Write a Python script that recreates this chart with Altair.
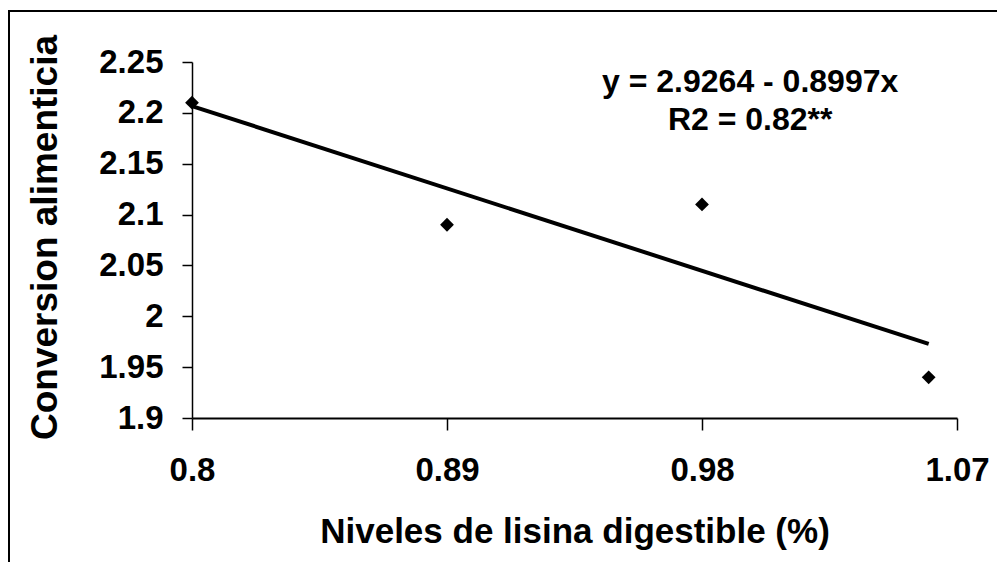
import altair as alt
import pandas as pd

# Data
lisina = [0.80, 0.89, 0.98, 1.06]
conversion = [2.21, 2.09, 2.11, 1.94]
x_ticks = [0.8, 0.89, 0.98, 1.07]
y_ticks = [1.9, 1.95, 2.0, 2.05, 2.1, 2.15, 2.2, 2.25]
eq_lines = ["y = 2.9264 - 0.8997x", "R2 = 0.82**"]
eq_x = [0.997, 0.997]
eq_y = [2.2202, 2.183]

df = pd.DataFrame({"x": lisina, "y": conversion})
eq_df = pd.DataFrame({"x": eq_x, "y": eq_y, "t": eq_lines})

FONT = "Liberation Sans"
W, H = 765, 356

xscale = alt.Scale(domain=[0.8, 1.07], nice=False, zero=False)
yscale = alt.Scale(domain=[1.9, 2.25], nice=False, zero=False)

xaxis = alt.Axis(
    values=x_ticks, format=".2~f", grid=False,
    title="Niveles de lisina digestible (%)",
    titleX=W / 2, titleY=124, titleAlign="center", titleBaseline="alphabetic",
    titleFontSize=35, titleFont=FONT, titleFontWeight="bold", titleColor="black",
    labelFont=FONT, labelFontSize=33, labelFontWeight="bold", labelColor="black",
    labelPadding=24, labelBaseline="top", labelFlush=False,
    tickSize=12, tickColor="black", tickWidth=1.5,
    domainColor="black", domainWidth=2,
)
yaxis = alt.Axis(
    values=y_ticks, format=".2~f", grid=False,
    title="Conversion alimenticia",
    titleX=-136, titleY=H / 2 - 3, titleAngle=-90, titleAlign="center",
    titleBaseline="alphabetic",
    titleFontSize=37, titleFont=FONT, titleFontWeight="bold", titleColor="black",
    labelFont=FONT, labelFontSize=33, labelFontWeight="bold", labelColor="black",
    labelPadding=19, labelBaseline="middle",
    tickSize=10, tickColor="black", tickWidth=1.5,
    domainColor="black", domainWidth=1.5,
)

points = alt.Chart(df).mark_point(
    shape="diamond", filled=True, color="black", size=190, opacity=1
).encode(
    x=alt.X("x:Q", scale=xscale, axis=xaxis),
    y=alt.Y("y:Q", scale=yscale, axis=yaxis),
)

trend = alt.Chart(df).transform_regression("x", "y").mark_line(
    color="black", strokeWidth=4
).encode(
    x=alt.X("x:Q", scale=xscale),
    y=alt.Y("y:Q", scale=yscale),
)

eq_text = alt.Chart(eq_df).mark_text(
    font=FONT, fontSize=32, fontWeight="bold", color="black",
    align="center", baseline="alphabetic"
).encode(
    x=alt.X("x:Q", scale=xscale),
    y=alt.Y("y:Q", scale=yscale),
    text="t:N",
)

frame_top = alt.Chart(df).mark_rule(color="black", strokeWidth=2).encode(
    x=alt.value(-184), x2=alt.value(805), y=alt.value(-51)
)
frame_left = alt.Chart(df).mark_rule(color="black", strokeWidth=2).encode(
    x=alt.value(-183), y=alt.value(-51), y2=alt.value(520)
)

chart = alt.layer(frame_top, frame_left, trend, points, eq_text).properties(
    width=W, height=H,
    autosize=alt.AutoSizeParams(type="none"),
    padding={"left": 184, "top": 54, "right": 40, "bottom": 144},
).configure_view(stroke=None)

chart.save("out.html", embed_options={"renderer": "svg", "actions": False})
